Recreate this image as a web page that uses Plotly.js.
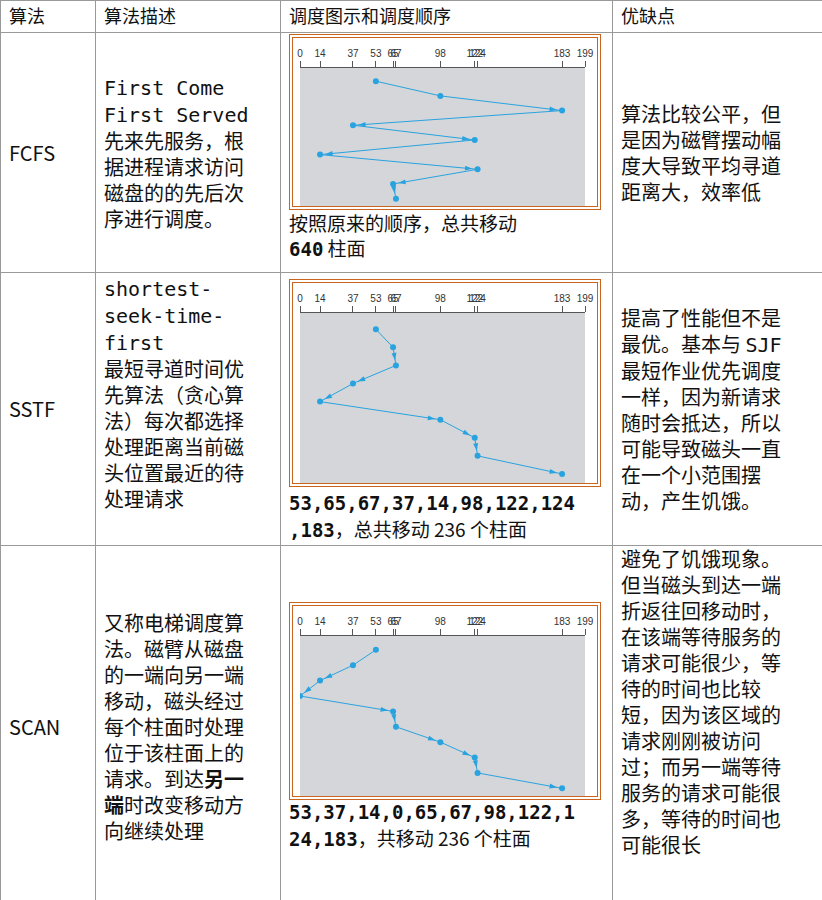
<!DOCTYPE html>
<html><head><meta charset="utf-8">
<script src="https://cdn.plot.ly/plotly-3.0.1.min.js"></script>
<style>
body{margin:0;background:#fff;font-family:"Noto Sans CJK SC","Noto Sans",sans-serif;color:#111;}
table{border-collapse:collapse;width:822px;table-layout:fixed;}
td{border:1px solid #999;vertical-align:top;padding:2px 8px;font-size:20px;line-height:26px;white-space:nowrap;overflow:hidden;}
.hd td{font-size:18px;height:27px;line-height:24px;}
.mono{font-family:"DejaVu Sans Mono","Noto Sans CJK SC",monospace;}
.box{border:4px double #c8641e;width:304px;}
.cap{font-size:19px;line-height:25px;}
.mid{vertical-align:middle;}
.cn{font-weight:normal;font-family:'Noto Sans CJK SC';}
</style></head><body>
<table>
<colgroup><col style="width:95px"><col style="width:185px"><col style="width:332px"><col style="width:210px"></colgroup>
<tr class="hd"><td>算法</td><td>算法描述</td><td>调度图示和调度顺序</td><td>优缺点</td></tr>
<tr style="height:240px">
<td class="mid">FCFS</td>
<td class="mid"><span class="mono">First Come<br>First Served</span><br>先来先服务，根<br>据进程请求访问<br>磁盘的的先后次<br>序进行调度。</td>
<td style="padding-top:1px"><div class="box"><div id="c1" style="width:304px;height:168px"></div></div>
<div class="cap">按照原来的顺序，总共移动<br><span class="mono" style="font-weight:bold">640</span> 柱面</div></td>
<td class="mid">算法比较公平，但<br>是因为磁臂摆动幅<br>度大导致平均寻道<br>距离大，效率低</td></tr>
<tr style="height:263px">
<td class="mid">SSTF</td>
<td><span class="mono">shortest-<br>seek-time-<br>first</span><br>最短寻道时间优<br>先算法（贪心算<br>法）每次都选择<br>处理距离当前磁<br>头位置最近的待<br>处理请求</td>
<td style="padding-top:6px"><div class="box"><div id="c2" style="width:304px;height:200px"></div></div>
<div class="cap mono" style="font-weight:bold;margin-top:4px">53,65,67,37,14,98,122,124<br>,183<span class="cn">，总共移动 236 个柱面</span></div></td>
<td class="mid">提高了性能但不是<br>最优。基本与 <span class="mono">SJF</span><br>最短作业优先调度<br>一样，因为新请求<br>随时会抵达，所以<br>可能导致磁头一直<br>在一个小范围摆<br>动，产生饥饿。</td></tr>
<tr style="height:362px">
<td class="mid">SCAN</td>
<td class="mid">又称电梯调度算<br>法。磁臂从磁盘<br>的一端向另一端<br>移动，磁头经过<br>每个柱面时处理<br>位于该柱面上的<br>请求。到达<b>另一<br>端</b>时改变移动方<br>向继续处理</td>
<td class="mid"><div class="box"><div id="c3" style="width:304px;height:190px"></div></div>
<div class="cap mono" style="font-weight:bold">53,37,14,0,65,67,98,122,1<br>24,183<span class="cn">，共移动 236 个柱面</span></div></td>
<td style="padding-top:0">避免了饥饿现象。<br>但当磁头到达一端<br>折返往回移动时，<br>在该端等待服务的<br>请求可能很少，等<br>待的时间也比较<br>短，因为该区域的<br>请求刚刚被访问<br>过；而另一端等待<br>服务的请求可能很<br>多，等待的时间也<br>可能很长</td></tr>
</table>
<script>
const tickVals=[0,14,37,53,65,67,98,122,124,183,199];
const fcfsOrder=[53,98,183,37,122,14,124,65,67];
const sstfOrder=[53,65,67,37,14,98,122,124,183];
const scanOrder=[53,37,14,0,65,67,98,122,124,183];
function draw(id,order){
  const ys=order.map((_,i)=>i);
  const line={x:order,y:ys,mode:'lines+markers',line:{color:'#29a3e0',width:1},
    marker:{color:'#29a3e0',size:6},hoverinfo:'skip'};
  const arr={x:order.slice(1),y:ys.slice(1),mode:'markers',hoverinfo:'skip',
    marker:{symbol:'arrow',angleref:'previous',standoff:5,size:8,color:'#29a3e0'}};
  const n=order.length;
  Plotly.newPlot(id,[line,arr],{
    margin:{l:7,r:12,t:30,b:0},paper_bgcolor:'#fff',plot_bgcolor:'#d4d6d9',showlegend:false,
    xaxis:{side:'top',range:[0,199],tickvals:tickVals,ticktext:tickVals.map(String),ticks:'outside',
      tickangle:0,ticklen:6,tickcolor:'#555',showline:true,linecolor:'#555',showgrid:false,zeroline:false,
      tickfont:{size:10,color:'#333',family:'Liberation Sans'}},
    yaxis:{range:[n-0.5,-0.9],visible:false}
  },{staticPlot:true});
}
draw('c1',fcfsOrder);draw('c2',sstfOrder);draw('c3',scanOrder);
</script>
</body></html>
